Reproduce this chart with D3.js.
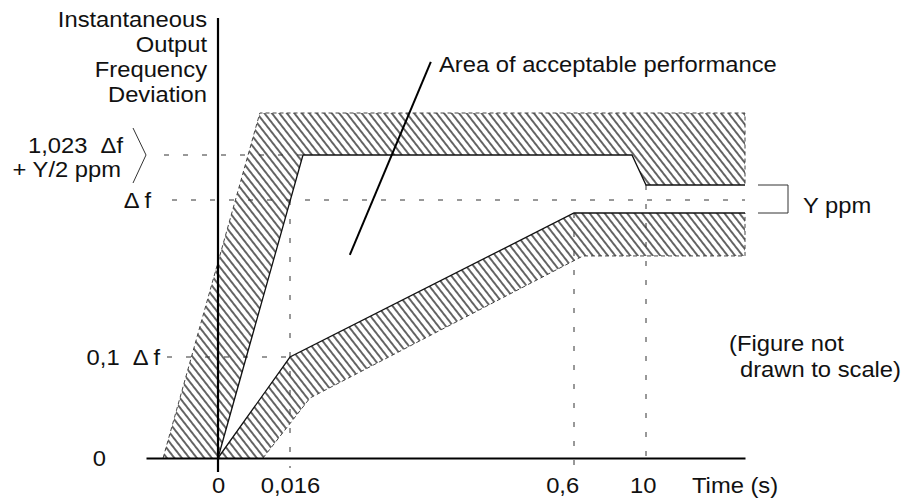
<!DOCTYPE html>
<html>
<head>
<script src="https://d3js.org/d3.v7.min.js"></script>
<style>
  body { margin: 0; background: #fff; }
  text { font-family: "Liberation Sans", Arial, sans-serif; font-size: 22px; fill: #111; white-space: pre; }
  .dash { stroke: #333; stroke-width: 1; stroke-dasharray: 5,14; fill: none; }
  .edge { stroke: #444; stroke-width: 1; stroke-dasharray: 4,3; fill: none; }
  .limit { stroke: #111; stroke-width: 1.3; fill: none; }
</style>
</head>
<body>
<svg width="903" height="499"></svg>
<script>
// time (s) - the figure is not drawn to scale
var timeTicks = [0, 0.016, 0.6, 10];
var timeLabels = ["0", "0,016", "0,6", "10"];

// frequency deviation, in units of Δf
var levelTicks = [0, 0.1, 1];
var levelLabels = ["0", "0,1\u00a0\u00a0\u0394\u2009f", "\u0394\u2009f"];

// upper limit line and the outer edge of its hatched band
var upperT = [0, 0.0427, 8.17, 10, 14];
var upperF = [0, 1.031, 1.031, 1.008, 1.008];
var upperOuterT = [-0.0122, 0.0093, 14];
var upperOuterF = [0, 1.05, 1.05];

// lower limit line and the outer edge of its hatched band
var lowerT = [0, 0.016, 0.6, 14];
var lowerF = [0, 0.1, 0.992, 0.992];
var lowerOuterT = [0.01, 0.0571, 1.775, 14];
var lowerOuterF = [0, 0.0594, 0.726, 0.726];

var svg = d3.select("svg");
var sx = 1.08; // text is a little wide in the original

// piecewise scales, since the axes are schematic
var x = d3.scaleLinear()
    .domain([-0.016, 0, 0.016, 0.6, 10, 14])
    .range([146, 218, 290, 574, 646, 745]);
var y = d3.scaleLinear()
    .domain([0, 0.1, 0.992, 1, 1.008, 1.031, 1.05])
    .range([458, 357, 213, 200, 185, 155, 113]);

var line = d3.line().x(function(d) { return x(d[0]); }).y(function(d) { return y(d[1]); });

function label(px, py, str, anchor) {
    return svg.append("text")
        .attr("transform", "translate(" + px + "," + py + ") scale(" + sx + ",1)")
        .attr("text-anchor", anchor || "start")
        .text(str);
}

svg.append("defs").append("pattern")
    .attr("id", "hatch")
    .attr("patternUnits", "userSpaceOnUse")
    .attr("width", 5.9).attr("height", 10)
    .attr("patternTransform", "rotate(-38)")
    .append("line")
    .attr("x1", 2.95).attr("y1", -1).attr("x2", 2.95).attr("y2", 11)
    .attr("stroke", "#000").attr("stroke-width", 1.2);

var upper = d3.zip(upperT, upperF);
var upperOuter = d3.zip(upperOuterT, upperOuterF);
var lower = d3.zip(lowerT, lowerF);
var lowerOuter = d3.zip(lowerOuterT, lowerOuterF);

// hatched bands
svg.append("path")
    .attr("d", line(upperOuter.concat(upper.slice().reverse())) + "Z")
    .attr("fill", "url(#hatch)");
svg.append("path")
    .attr("d", line(lower.concat(lowerOuter.slice().reverse())) + "Z")
    .attr("fill", "url(#hatch)");

// dashed outer edges
svg.append("path").attr("class", "edge")
    .attr("d", line(upperOuter.concat([upper[upper.length - 1]])));
svg.append("path").attr("class", "edge")
    .attr("d", line(lowerOuter.concat([lower[lower.length - 1]])));

// dashed reference lines
var hRefs = [
    {f: 1.031, x0: 164, t1: upperT[1]},
    {f: 1, x0: 172, t1: 14},
    {f: 0.1, x0: 167, t1: 0.016}
];
svg.selectAll(".href").data(hRefs).enter().append("line")
    .attr("class", "dash")
    .attr("x1", function(d) { return d.x0; })
    .attr("x2", function(d) { return x(d.t1); })
    .attr("y1", function(d) { return y(d.f); })
    .attr("y2", function(d) { return y(d.f); });

var vRefs = [
    {t: 0.016, f: 1},
    {t: 0.6, f: 0.992},
    {t: 10, f: 1.008}
];
svg.selectAll(".vref").data(vRefs).enter().append("line")
    .attr("class", "dash")
    .attr("x1", function(d) { return x(d.t); })
    .attr("x2", function(d) { return x(d.t); })
    .attr("y1", function(d) { return y(d.f); })
    .attr("y2", y(0) + 10);

// limit lines
svg.append("path").attr("class", "limit").attr("d", line(upper));
svg.append("path").attr("class", "limit").attr("d", line(lower));

// x axis
var xAxis = svg.append("g")
    .attr("transform", "translate(0," + y(0) + ")")
    .call(d3.axisBottom(x)
        .tickValues(timeTicks)
        .tickFormat(function(d, i) { return timeLabels[i]; })
        .tickSize(0)
        .tickSizeOuter(0)
        .tickPadding(19));
xAxis.select(".domain").attr("stroke", "#000").attr("stroke-width", 2.2);
xAxis.selectAll(".tick text")
    .attr("transform", "scale(" + sx + ",1)")
    .attr("dx", function(d) { return d === 0.6 ? -11 : (d === 10 ? -3 : 0); });
xAxis.attr("font-family", null).attr("font-size", null);
label(692, 493, "Time (s)");

// y axis
svg.append("line")
    .attr("x1", x(0)).attr("x2", x(0))
    .attr("y1", 18).attr("y2", y(0) + 14)
    .attr("stroke", "#000").attr("stroke-width", 2.2);

var levelRight = [106, 160, 151];
levelTicks.forEach(function(f, i) {
    label(levelRight[i], y(f) + 8, levelLabels[i], "end");
});

["Instantaneous", "Output", "Frequency", "Deviation"].forEach(function(s, i) {
    label(207, 27 + i * 25, s, "end");
});

// 1,023 Δf + Y/2 ppm with its bracket
label(123, 153, "1,023\u00a0\u00a0\u0394f", "end");
label(121, 177, "+ Y/2 ppm", "end");
svg.append("path")
    .attr("d", "M133," + (y(1.031) - 27) + "L146," + y(1.031) + "L133," + (y(1.031) + 28))
    .attr("fill", "none").attr("stroke", "#333").attr("stroke-width", 1);

// Y ppm bracket
svg.append("path")
    .attr("d", "M758," + y(1.008) + "H788V" + y(0.992) + "H758")
    .attr("fill", "none").attr("stroke", "#333").attr("stroke-width", 1);
label(803, 213, "Y ppm");

// annotation
var ax = x(0.139), ay = y(0.732);
svg.append("line")
    .attr("x1", ax).attr("y1", ay)
    .attr("x2", ax + 81).attr("y2", ay - 193)
    .attr("stroke", "#000").attr("stroke-width", 2);
label(439, 72, "Area of acceptable performance");

label(729, 351, "(Figure not");
label(740, 377, "drawn to scale)");
</script>
</body>
</html>
